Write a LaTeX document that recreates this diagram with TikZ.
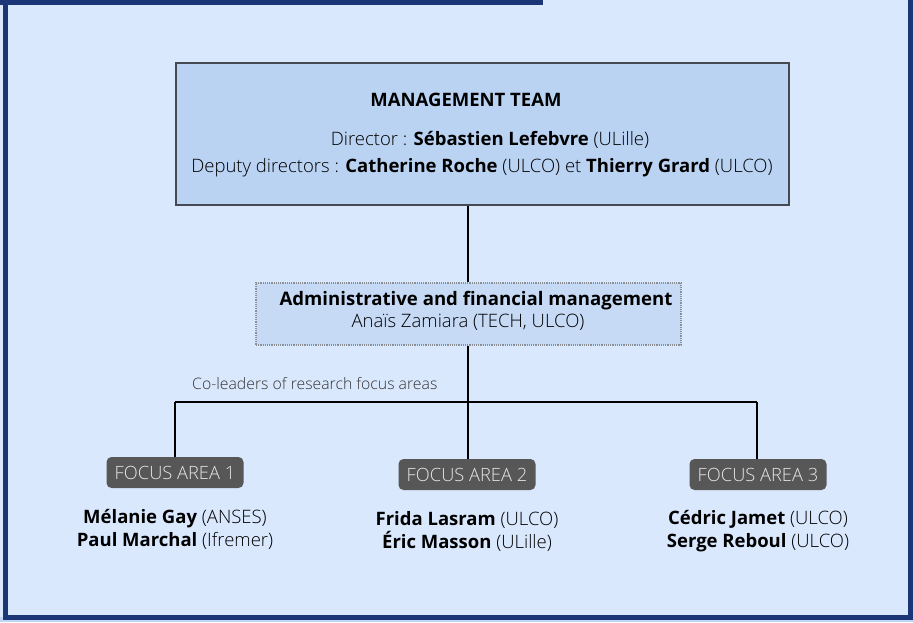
\documentclass[tikz,border=0pt]{standalone}
\usepackage{fontspec}
\setmainfont{Open Sans}[UprightFont={* Light},BoldFont={* Bold}]
\definecolor{innerbg}{HTML}{DAE8FE}
\definecolor{outerbg}{HTML}{BFD5F1}
\definecolor{frameblue}{HTML}{1B3577}
\definecolor{mgmtfill}{HTML}{BAD3F3}
\definecolor{mgmtline}{HTML}{454A52}
\definecolor{adminfill}{HTML}{C6DAF5}
\definecolor{adminline}{HTML}{8A8F96}
\definecolor{areafill}{HTML}{575757}
\definecolor{areatext}{HTML}{E6E6E6}
\definecolor{softtext}{HTML}{333333}
\tikzset{
  frameline/.style={draw=frameblue, line width=5pt},
  mgmtbox/.style={draw=mgmtline, fill=mgmtfill, line width=2pt, minimum width=613pt, minimum height=142pt, inner sep=0pt},
  adminbox/.style={draw=adminline, fill=adminfill, densely dotted, line width=1.2pt, minimum width=425pt, minimum height=62pt, inner sep=0pt},
  areabox/.style={fill=areafill, rounded corners=5pt, text=areatext, font=\fontsize{18.3}{22}\selectfont, minimum width=137pt, minimum height=31pt, inner sep=0pt},
  txt/.style={font=\fontsize{18.5}{22}\selectfont, inner sep=0pt, anchor=center},
  names/.style={font=\fontsize{18.5}{23}\selectfont, align=center, inner sep=0pt},
  conn/.style={draw=black, line width=1.5pt}
}
\begin{document}
\begin{tikzpicture}[x=1pt,y=-1pt]
\useasboundingbox (0,0) rectangle (913,622);
\fill[outerbg] (0,0) rectangle (913,622);
\fill[innerbg] (0,0) rectangle (910,617);
% frame
\draw[frameline] (5.5,0) -- (5.5,617.5) -- (910,617.5) -- (910,0);
\draw[frameline] (0,2) -- (543,2);
\draw[frameblue, line width=1.2pt] (910,384) -- (913,384);

% management
\node[mgmtbox] (mgmt) at (482.5,133.5) {};
\node[txt, font=\fontsize{18.5}{22}\selectfont\bfseries] (mt) at (466,100) {MANAGEMENT TEAM};
\node[txt] (dir) at (490,140) {Director : \textbf{Sébastien Lefebvre} (ULille)};
\node[txt] (dep) at (482,168) {Deputy directors : \textbf{Catherine Roche} (ULCO) et \textbf{Thierry Grard} (ULCO)};

% admin
\node[adminbox] (admin) at (468.5,314) {};
\node[txt, font=\fontsize{18.6}{22}\selectfont\bfseries] (adt) at (476,301) {Administrative and financial management};
\node[txt, font=\fontsize{18.5}{22}\selectfont] (adn) at (468,322) {Anaïs Zamiara (TECH, ULCO)};

% connectors
\coordinate (hub) at (468,402);
\coordinate (hl) at (175,402);
\coordinate (hr) at (757,402);
\draw[conn] (mgmt.south -| hub) -- (admin.north -| hub);
\draw[conn] (admin.south -| hub) -- (hub);
\draw[conn] (hl) -- (hr);
\node[font=\fontsize{15.8}{18}\selectfont, text=softtext, anchor=west, inner sep=0pt] (col) at (192,384) {Co-leaders of research focus areas};

% focus areas
\node[areabox] (fa1) at (175,472.5) {FOCUS AREA 1};
\node[areabox] (fa2) at (467,474.5) {FOCUS AREA 2};
\node[areabox] (fa3) at (758,474.5) {FOCUS AREA 3};
\draw[conn] (hl) -- (fa1.north -| hl);
\draw[conn] (hub) -- (fa2.north -| hub);
\draw[conn] (hr) -- (fa3.north -| hr);

\node[names] (n1) at (175,529) {\textbf{Mélanie Gay} (ANSES)\\\textbf{Paul Marchal} (Ifremer)};
\node[names] (n2) at (467,531) {\textbf{Frida Lasram} (ULCO)\\\textbf{Éric Masson} (ULille)};
\node[names] (n3) at (758,531) {\textbf{Cédric Jamet} (ULCO)\\\textbf{Serge Reboul} (ULCO)};
\end{tikzpicture}
\end{document}
